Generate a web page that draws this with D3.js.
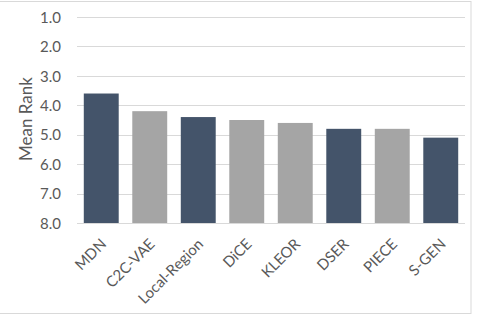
<!DOCTYPE html>
<html><head><meta charset="utf-8">
<script src="https://cdn.jsdelivr.net/npm/d3@7"></script>
<style>body{margin:0;background:#fff;}svg{display:block;font-family:Lato,"Open Sans",sans-serif;}</style>
</head><body>
<script>
const categories = ["MDN","C2C-VAE","Local-Region","DiCE","KLEOR","DSER","PIECE","S-GEN"];
const meanRank = [3.6,4.2,4.4,4.5,4.6,4.8,4.8,5.1];
const barColors = ["#44546a","#a5a5a5","#44546a","#a5a5a5","#a5a5a5","#44546a","#a5a5a5","#44546a"];
const yTicks = [1,2,3,4,5,6,7,8];
const yTitle = "Mean Rank";

(function(){
const W=478,H=316;
const svg=d3.select("body").append("svg").attr("width",W).attr("height",H);
svg.append("rect").attr("x",-1).attr("y",1.5).attr("width",472).attr("height",312).attr("fill","none").attr("stroke","#d9d9d9");
const mL=77,mR=465,mT=17,mB=223;
const x=d3.scaleBand().domain(categories).range([mL,mR]).paddingInner(0.28).paddingOuter(0.14);
const y=d3.scaleLinear().domain([1,8]).range([mT,mB]);
svg.append("g").selectAll("line").data(yTicks).join("line")
 .attr("x1",mL).attr("x2",mR).attr("y1",d=>Math.round(y(d))+0.5).attr("y2",d=>Math.round(y(d))+0.5)
 .attr("stroke","#d9d9d9").attr("stroke-width",1);
svg.append("g").selectAll("rect").data(categories).join("rect")
 .attr("x",d=>x(d)).attr("width",x.bandwidth())
 .attr("y",(d,i)=>y(meanRank[i])).attr("height",(d,i)=>y(8)-y(meanRank[i]))
 .attr("fill",(d,i)=>barColors[i]);
const yAxis=d3.axisLeft(y).tickValues(yTicks).tickFormat(d3.format(".1f")).tickSize(0).tickPadding(0);
const ga=svg.append("g").attr("transform",`translate(61,0)`).call(yAxis);
ga.select(".domain").remove();
ga.selectAll("text").attr("fill","#595959").style("font-size","15px").style("font-family","Lato,sans-serif").attr("dy","0.35em");
const xAxis=d3.axisBottom(x).tickSize(0).tickPadding(0);
const gx=svg.append("g").attr("transform",`translate(0,${mB})`).call(xAxis);
gx.select(".domain").remove();
gx.selectAll("text").attr("fill","#595959").style("font-size","15px").style("font-family","Lato,sans-serif")
 .attr("text-anchor","end").attr("dy",null).attr("y",0)
 .attr("transform","translate(6,22) rotate(-45)");
svg.append("text").attr("transform",`translate(32,119) rotate(-90)`).attr("text-anchor","middle")
 .attr("fill","#595959").style("font-size","17px").text(yTitle);
})();
</script>
</body></html>
